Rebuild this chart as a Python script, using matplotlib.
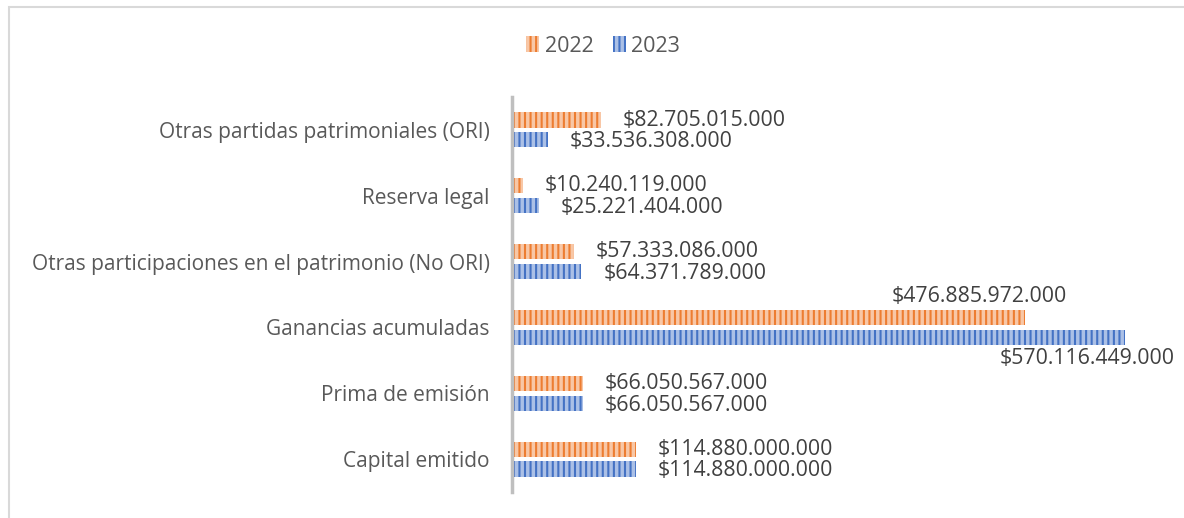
import matplotlib.pyplot as plt
import matplotlib.patches as mpatches
import numpy as np

# Data (pesos)
categories = ['Capital emitido', 'Prima de emisión', 'Ganancias acumuladas',
              'Otras participaciones en el patrimonio (No ORI)', 'Reserva legal',
              'Otras partidas patrimoniales (ORI)']
values_2022 = [114880000000, 66050567000, 476885972000, 57333086000, 10240119000, 82705015000]
values_2023 = [114880000000, 66050567000, 570116449000, 64371789000, 25221404000, 33536308000]

def fmt(v):
    return '$' + f'{v:,}'.replace(',', '.')

plt.rcParams['font.family'] = ['Open Sans', 'DejaVu Sans']
plt.rcParams['hatch.linewidth'] = 1.5

fig = plt.figure(figsize=(11.84, 5.18), dpi=100)
W, H = 1184, 518
ax = fig.add_axes([512 / W, (518 - 492) / H, (1170 - 512) / W, (492 - 97) / H])

# chart frame
fig.patches.append(mpatches.Rectangle((9 / W, -0.1), 1.2, (518 - 7) / H + 0.1,
                                      transform=fig.transFigure, fill=False,
                                      edgecolor='#D9D9D9', linewidth=1.5))

y = np.arange(len(categories))
h = 0.23
off = 0.15
c22_face, c22_edge = '#F8C7A6', '#ED7D31'
c23_face, c23_edge = '#ABC0E6', '#4472C4'
lbl_size = 15.3

b22 = ax.barh(y + off, values_2022, height=h, color=c22_face, edgecolor=c22_edge,
              hatch='|||', linewidth=0, label='2022')
b23 = ax.barh(y - off, values_2023, height=h, color=c23_face, edgecolor=c23_edge,
              hatch='|||', linewidth=0, label='2023')

for i in range(len(categories)):
    if categories[i] == 'Ganancias acumuladas':
        ax.annotate(fmt(values_2022[i]), (values_2022[i], y[i] + off), xytext=(42, 21),
                    textcoords='offset pixels', ha='right', va='center', fontsize=lbl_size, color='#404040')
        ax.annotate(fmt(values_2023[i]), (values_2023[i], y[i] - off), xytext=(50, -21),
                    textcoords='offset pixels', ha='right', va='center', fontsize=lbl_size, color='#404040')
    else:
        ax.annotate(fmt(values_2022[i]), (values_2022[i], y[i] + off), xytext=(22, 0),
                    textcoords='offset pixels', ha='left', va='center', fontsize=lbl_size, color='#404040')
        ax.annotate(fmt(values_2023[i]), (values_2023[i], y[i] - off), xytext=(22, -2),
                    textcoords='offset pixels', ha='left', va='center', fontsize=lbl_size, color='#404040')

ax.set_xlim(0, 612e9)
ax.set_ylim(-0.5, len(categories) - 0.5)
ax.set_yticks(y)
ax.set_yticklabels(categories, fontsize=15, color='#595959')
ax.tick_params(axis='y', length=0, pad=16)
ax.xaxis.set_visible(False)
for s in ['top', 'right', 'bottom']:
    ax.spines[s].set_visible(False)
ax.spines['left'].set_color('#BFBFBF')
ax.spines['left'].set_linewidth(2.5)

fig.legend(handles=[b22, b23], loc='center', bbox_to_anchor=(603 / W, 1 - 46 / H), ncol=2,
           frameon=False, fontsize=15.5, handlelength=0.6, handleheight=0.8,
           handletextpad=0.25, columnspacing=0.9, labelcolor='#595959')

fig.savefig('out.png', dpi=100)
